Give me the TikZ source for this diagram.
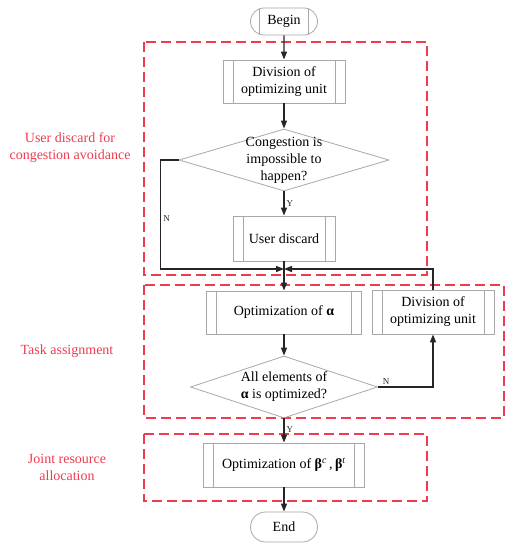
\documentclass[tikz,border=0pt]{standalone}
\usepackage{fontspec}
\setmainfont{Liberation Serif}
\usetikzlibrary{shapes.geometric,shapes.misc,arrows.meta,positioning,calc}
\definecolor{GR}{HTML}{EE3B4F}
\definecolor{BX}{HTML}{A8A8A8}
\definecolor{LN}{HTML}{262626}
\tikzset{
  txt/.style={font=\fontsize{14}{17}\selectfont, align=center},
  proc/.style={txt, draw=BX, line width=0.8pt, inner sep=0pt,
    path picture={\draw[BX, line width=0.8pt]
      ([xshift=10pt]path picture bounding box.north west) -- ([xshift=10pt]path picture bounding box.south west)
      ([xshift=-10pt]path picture bounding box.north east) -- ([xshift=-10pt]path picture bounding box.south east);}},
  term/.style={txt, rounded rectangle, draw=BX, line width=0.8pt, minimum width=67pt, inner sep=0pt},
  decide/.style={diamond, draw=BX, line width=0.8pt, inner sep=0pt},
  flow/.style={draw=LN, line width=1.4pt, -{Triangle[length=8pt,width=6pt]}},
  yn/.style={font=\fontsize{9}{10}\selectfont, text=LN, inner sep=2pt},
  groupbox/.style={draw=GR, line width=1.1pt, dash pattern=on 10pt off 5pt},
  grouplbl/.style={txt, text=GR}
}
\begin{document}
\begin{tikzpicture}[x=1pt,y=-1pt]
  \useasboundingbox (0,0) rectangle (519,550);
  \foreach \xa/\ya/\xb/\yb in {144/42/427/275,144/285/504/418,144/434/427/501}{
    \draw[groupbox] (\xa,\ya) rectangle (\xb,\yb);
  }
  \node[grouplbl] (lblA) at (70,148) {User discard for\\congestion avoidance};
  \node[grouplbl] (lblB) at (67,351) {Task assignment};
  \node[grouplbl] (lblC) at (67,467) {Joint resource\\allocation};

  \node[term, minimum height=27pt,
    path picture={\draw[BX, line width=0.8pt]
      ([xshift=9pt]path picture bounding box.north west) -- ([xshift=9pt]path picture bounding box.south west)
      ([xshift=-9pt]path picture bounding box.north east) -- ([xshift=-9pt]path picture bounding box.south east);}]
    (begin) at (284,21.5) {Begin};
  \node[proc, minimum width=122pt, minimum height=43pt] (div1) at (284,81.5) {Division of\\optimizing unit};
  \node[decide, minimum width=210pt, minimum height=62pt,
    label={[txt]center:Congestion is\\impossible to\\happen?}] (cong) at (284,160) {};
  \node[proc, minimum width=102pt, minimum height=45pt] (discard) at (284,238.5) {User discard};
  \coordinate (join) at (284,269);
  \node[proc, minimum width=155pt, minimum height=43pt] (optA) at (284,312.5) {Optimization of \textbf{α}};
  \node[proc, minimum width=122pt, minimum height=44pt] (div2) at (433,312) {Division of\\optimizing unit};
  \node[decide, minimum width=187pt, minimum height=62pt,
    label={[txt]center:All elements of\\\textbf{α} is optimized?}] (allopt) at (284,387) {};
  \node[proc, minimum width=161pt, minimum height=44pt] (optB) at (284,465)
    {Optimization of \textbf{β}\textsuperscript{\textit{c}}\,,\,\textbf{β}\textsuperscript{\textit{t}}};
  \node[term, minimum height=30pt] (end) at (284,527) {End};

  \draw[flow] (begin) -- (div1);
  \draw[flow] (div1) -- (cong);
  \draw[flow] (cong) -- node[yn, right] {Y} (discard);
  \draw[flow] (cong.west) -- ++(-18,0) |- node[yn, right, pos=0.27] {N} (join);
  \draw[flow] (div2.north) |- (join);
  \draw[flow] (discard) -- (optA);
  \draw[flow] (optA) -- (allopt);
  \draw[flow] (allopt.east) -| node[yn, above right, pos=0.02] {N} (div2.south);
  \draw[flow] (allopt) -- node[yn, right, pos=0.45] {Y} (optB);
  \draw[flow] (optB) -- (end);
\end{tikzpicture}
\end{document}
